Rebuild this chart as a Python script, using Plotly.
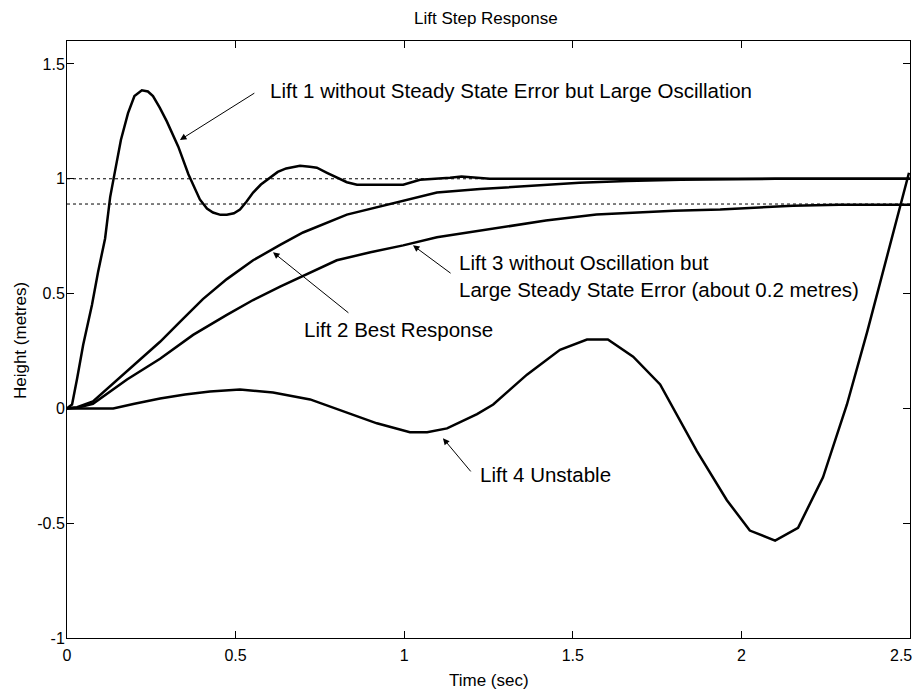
import plotly.graph_objects as go

# ---- data ----
t1 = [0, 0.015, 0.03, 0.048, 0.074, 0.092, 0.113, 0.128, 0.142, 0.16, 0.181, 0.20, 0.222, 0.24,
      0.255, 0.275, 0.296, 0.33, 0.36, 0.394, 0.415, 0.433, 0.455, 0.474, 0.495, 0.513, 0.532,
      0.552, 0.575, 0.602, 0.625, 0.65, 0.691, 0.72, 0.741, 0.771, 0.80, 0.83, 0.86, 0.90, 0.95,
      0.997, 1.047, 1.10, 1.136, 1.17, 1.254, 1.40, 1.80, 2.5]
lift1 = [0, 0.017, 0.13, 0.277, 0.45, 0.593, 0.74, 0.92, 1.03, 1.17, 1.286, 1.36, 1.385, 1.38,
         1.36, 1.31, 1.25, 1.14, 1.02, 0.91, 0.87, 0.853, 0.843, 0.843, 0.85, 0.866, 0.90,
         0.94, 0.975, 1.004, 1.03, 1.045, 1.057, 1.052, 1.048, 1.026, 1.005, 0.985, 0.974, 0.974, 0.974,
         0.974, 0.996, 1.0, 1.004, 1.01, 1.0, 1.0, 1.0, 1.0]

t2 = [0, 0.03, 0.077, 0.178, 0.276, 0.335, 0.403, 0.474, 0.552, 0.632, 0.70, 0.83, 0.997, 1.097,
      1.225, 1.403, 1.52, 1.66, 1.82, 2.1, 2.5]
lift2 = [0, 0.005, 0.03, 0.16, 0.29, 0.377, 0.476, 0.563, 0.645, 0.712, 0.766, 0.844, 0.905, 0.94,
         0.955, 0.97, 0.983, 0.99, 0.996, 1.0, 1.0]

t3 = [0, 0.03, 0.077, 0.178, 0.276, 0.374, 0.474, 0.552, 0.632, 0.72, 0.80, 0.90, 0.997, 1.097,
      1.225, 1.32, 1.42, 1.57, 1.69, 1.80, 1.937, 2.046, 2.153, 2.29, 2.5]
lift3 = [0, 0.003, 0.02, 0.126, 0.216, 0.32, 0.407, 0.472, 0.53, 0.59, 0.645, 0.68, 0.71, 0.745,
         0.775, 0.796, 0.818, 0.844, 0.853, 0.861, 0.866, 0.874, 0.883, 0.887, 0.887]

t4 = [0, 0.137, 0.2, 0.276, 0.35, 0.424, 0.513, 0.611, 0.721, 0.819, 0.919, 1.017, 1.068, 1.127,
      1.165, 1.216, 1.264, 1.364, 1.462, 1.542, 1.604, 1.679, 1.759, 1.818, 1.868, 1.957, 2.025,
      2.10, 2.168, 2.242, 2.268, 2.313, 2.373, 2.45, 2.497]
lift4 = [0, 0, 0.02, 0.043, 0.06, 0.074, 0.082, 0.069, 0.039, -0.013, -0.065, -0.104, -0.104,
         -0.087, -0.06, -0.025, 0.017, 0.147, 0.255, 0.30, 0.30, 0.225, 0.104, -0.056, -0.186,
         -0.40, -0.532, -0.576, -0.52, -0.30, -0.186, 0.017, 0.333, 0.766, 1.026]

ref_levels = [1.0, 0.89]
x_ticks = [0, 0.5, 1, 1.5, 2, 2.5]
# the last label is padded so that it stays inside the visible page
x_tick_labels = ["0", "0.5", "1", "1.5", "2", "2.5\u00a0\u00a0\u00a0\u00a0"]
y_ticks = [-1, -0.5, 0, 0.5, 1, 1.5]
y_tick_labels = ["-1", "-0.5", "0", "0.5", "1", "1.5"]

FONT = "Liberation Sans, Arial, sans-serif"

fig = go.Figure()
for lv in ref_levels:
    fig.add_trace(go.Scatter(x=[0, 2.5], y=[lv, lv], mode="lines",
                             line=dict(color="black", width=1, dash="3px,3px"),
                             showlegend=False, hoverinfo="skip"))
for tx, ty in [(t1, lift1), (t2, lift2), (t3, lift3), (t4, lift4)]:
    fig.add_trace(go.Scatter(x=tx, y=ty, mode="lines",
                             line=dict(color="black", width=2.5),
                             showlegend=False))

arrows = [
    (0.335, 1.169, 0.560, 1.377),
    (0.611, 0.680, 0.839, 0.411),
    (1.026, 0.710, 1.142, 0.584),
    (1.115, -0.130, 1.201, -0.281),
]
for hx, hy, tx, ty in arrows:
    fig.add_annotation(x=hx, y=hy, ax=tx, ay=ty, xref="x", yref="y", axref="x", ayref="y",
                       text="", showarrow=True, arrowhead=2, arrowsize=1.3, arrowwidth=1,
                       arrowcolor="black", standoff=0, startstandoff=0)

texts = [
    (0.596, 1.385, "Lift 1 without Steady State Error but Large Oscillation"),
    (0.697, 0.342, "Lift 2 Best Response"),
    (1.157, 0.578, "Lift 3 without Oscillation but<br>Large Steady State Error (about 0.2 metres)"),
    (1.219, -0.286, "Lift 4 Unstable"),
]
for x, y, s in texts:
    fig.add_annotation(x=x, y=y, xref="x", yref="y", text=s, showarrow=False,
                       xanchor="left", yanchor="middle", align="left",
                       font=dict(family=FONT, size=20.5, color="black"))

# axis titles and chart title placed in paper coordinates
fig.add_annotation(x=-0.0558, y=0.499, xref="paper", yref="paper", text="Height (metres)",
                   textangle=-90, showarrow=False, xanchor="center", yanchor="middle",
                   font=dict(family=FONT, size=17, color="black"))
fig.add_annotation(x=0.5, y=-0.071, xref="paper", yref="paper", text="Time (sec)",
                   showarrow=False, xanchor="center", yanchor="middle",
                   font=dict(family=FONT, size=17, color="black"))
fig.add_annotation(x=0.497, y=1.037, xref="paper", yref="paper", text="Lift Step Response",
                   showarrow=False, xanchor="center", yanchor="middle",
                   font=dict(family=FONT, size=17, color="black"))

axis_common = dict(showline=True, linecolor="black", linewidth=1, mirror="ticks",
                   ticks="inside", ticklen=7, tickcolor="black", tickwidth=1,
                   showgrid=False, zeroline=False, automargin=False,
                   ticklabeloverflow="allow",
                   tickfont=dict(family=FONT, size=16, color="black"))

fig.update_xaxes(range=[0, 2.5], tickvals=x_ticks, ticktext=x_tick_labels,
                 ticklabelstandoff=3, **axis_common)
fig.update_yaxes(range=[-1, 1.6], tickvals=y_ticks, ticktext=y_tick_labels,
                 ticklabelstandoff=-2, **axis_common)

# the page body adds an 8px margin; keep the plot area where the reference has it
fig.update_layout(
    width=913, height=683,
    margin=dict(l=59, r=11, t=33, b=53),
    paper_bgcolor="white", plot_bgcolor="white",
)

fig.write_html("out.html")
